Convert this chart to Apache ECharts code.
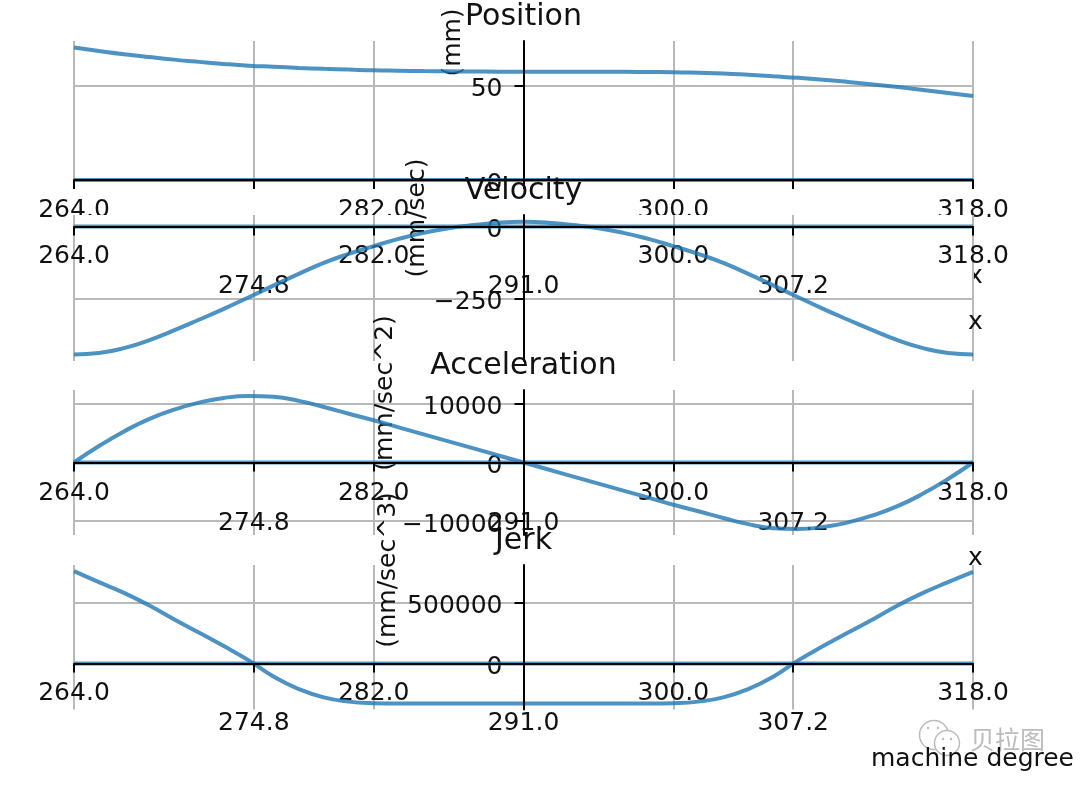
<!DOCTYPE html>
<html><head><meta charset="utf-8">
<style>html,body{margin:0;padding:0;background:#fff}#c{width:1080px;height:786px}</style>
<script src="https://cdn.jsdelivr.net/npm/echarts@6/dist/echarts.min.js"></script>
</head><body><div id="c"></div>
<script>
const machineDegrees = [264,265.5,267,268.5,270,271.5,273,274.5,276,277.5,279,280.5,282,283.5,285,286.5,288,289.5,291,292.5,294,295.5,297,298.5,300,301.5,303,304.5,306,307.5,309,310.5,312,313.5,315,316.5,318];
const positionValues = [70.4,68.6,66.9,65.4,64,62.8,61.7,60.8,60.2,59.6,59.1,58.7,58.3,58.1,57.9,57.8,57.7,57.6,57.6,57.6,57.6,57.5,57.5,57.4,57.3,57,56.6,55.9,55.1,54.3,53.3,52.1,50.8,49.4,47.9,46.3,44.7];
const velocityValues = [-443,-438,-421,-394,-360,-323,-285,-245,-204,-164,-126,-95,-68,-43,-22,-6,5,13,16,13,5,-6,-22,-43,-68,-95,-126,-164,-204,-245,-285,-323,-360,-394,-421,-438,-443];
const accelerationValues = [0,2800,5300,7400,9000,10200,11000,11320,11180,10500,9450,8300,7190,5990,4790,3590,2400,1200,0,-1200,-2400,-3590,-4790,-5990,-7190,-8300,-9450,-10500,-11180,-11320,-11000,-10200,-9000,-7400,-5300,-2800,0];
const jerkValues = [761000,670000,582000,480000,365000,255000,143000,25000,-110000,-212000,-280000,-315000,-328000,-331000,-331000,-331000,-331000,-331000,-331000,-331000,-331000,-331000,-331000,-331000,-328000,-315000,-280000,-212000,-110000,25000,143000,255000,365000,480000,582000,670000,755000];
const baselineDegrees = [264,318];
const baselineValues = [0,0];
const majorTicks = [264,282,300,318];
const minorTicks = [274.8,291,307.2];
const titles = ['Position','Velocity','Acceleration','Jerk'];
const yNames = ['(mm)','(mm/sec)','(mm/sec^2)','(mm/sec^3)'];
const xNames = ['x','x','x','machine degree'];
const yTicks = [[0,50],[-250,0],[-10000,0,10000],[0,500000]];
const yMins = [0,-465.7,-12350,-380000];
const yMaxs = [73.9,39.8,12350,811900];
const seriesValues = [positionValues,velocityValues,accelerationValues,jerkValues];

const FONT = 'DejaVu Sans';
const gridTops = [41,215,390,565];
const gridBottoms = [180,361,535,709.5];
const titleTops = [2,176,351,526];
const nameShift = [70,106,138.5,135];
const nameCenter = [42.5,218,393,570];
const xNameBelow = [96,96,96,96];
const gridLeft = 74, gridRight = 973;

const grid=[],xAxis=[],yAxis=[],series=[],title=[];
const spineDark='#000', gridCol='#b9b9b9', textCol='#111';
const fmt=v=>Number(v).toFixed(1);
for(let p=0;p<4;p++){
  const base=(p+1)*10;
  const h=gridBottoms[p]-gridTops[p];
  const zeroUp=h*(0-yMins[p])/(yMaxs[p]-yMins[p]); // distance of y=0 above the grid bottom
  grid.push({show:true,left:gridLeft,top:gridTops[p],width:gridRight-gridLeft,height:h,
    backgroundColor:'#fff',borderWidth:0,z:base,containLabel:false});
  const xBase={type:'value',gridIndex:p,min:264,max:318,position:'bottom',z:base+1,offset:-zeroUp,
    axisLine:{show:false,onZero:false},axisTick:{show:false}};
  const lab=(vals,margin)=>({show:true,customValues:vals,formatter:fmt,margin,fontFamily:FONT,fontSize:25,color:textCol,hideOverlap:false,showMinLabel:true,showMaxLabel:true});
  const split={show:true,lineStyle:{color:gridCol,width:2}};
  xAxis.push(Object.assign({},xBase,{axisTick:{show:false,customValues:majorTicks},axisLabel:lab(majorTicks,18),splitLine:split}));
  xAxis.push(Object.assign({},xBase,{axisTick:{show:false,customValues:minorTicks},axisLabel:lab(minorTicks,48),splitLine:split}));
  xAxis.push(Object.assign({},xBase,{z:base+3,
    axisLine:{show:true,onZero:false,lineStyle:{color:spineDark,width:2}},
    axisTick:{show:true,length:9,customValues:majorTicks.concat(minorTicks),lineStyle:{color:spineDark,width:2}},
    axisLabel:{show:false},splitLine:{show:false}}));
  xAxis.push(Object.assign({},xBase,{offset:-zeroUp+xNameBelow[p],
    name:xNames[p],nameLocation:'end',nameGap:p==3?-102:-5,nameMoveOverlap:false,
    nameTextStyle:{fontFamily:FONT,fontSize:25,color:textCol,align:'left',verticalAlign:'middle'},
    axisLabel:{show:false},splitLine:{show:false}}));
  const yBase={type:'value',gridIndex:p,min:yMins[p],max:yMaxs[p],position:'left',offset:-449.5,axisLine:{show:false,onZero:false}};
  yAxis.push(Object.assign({},yBase,{z:base+1,
    axisTick:{show:false,customValues:yTicks[p]},
    axisLabel:{show:true,customValues:yTicks[p],margin:21,fontFamily:FONT,fontSize:25,color:textCol,hideOverlap:false,showMinLabel:true,showMaxLabel:true,verticalAlign:'top',lineHeight:8,
      formatter:v=>String(v).replace('-','\u2212')},
    splitLine:{show:true,lineStyle:{color:gridCol,width:2}}}));
  yAxis.push(Object.assign({},yBase,{z:base+3,
    axisLine:{show:true,onZero:false,lineStyle:{color:spineDark,width:2}},
    axisTick:{show:true,length:9,customValues:yTicks[p],lineStyle:{color:spineDark,width:2}},
    axisLabel:{show:false},splitLine:{show:false}}));
  yAxis.push(Object.assign({},yBase,{z:base+1,offset:-449.5+nameShift[p],
    name:yNames[p],nameLocation:'end',nameGap:gridTops[p]-nameCenter[p],nameRotate:90,nameMoveOverlap:false,
    nameTextStyle:{fontFamily:FONT,fontSize:25,color:textCol,align:'center',verticalAlign:'middle'},
    axisTick:{show:false},axisLabel:{show:false},splitLine:{show:false}}));
  series.push({type:'line',name:titles[p]+' baseline',xAxisIndex:4*p,yAxisIndex:3*p,data:baselineDegrees.map((d,k)=>[d,baselineValues[k]]),
    showSymbol:false,symbol:'none',clip:false,z:base+2,lineStyle:{color:'#1f77b4',opacity:.8,width:4},animation:false});
  series.push({type:'line',name:titles[p],xAxisIndex:4*p,yAxisIndex:3*p,data:machineDegrees.map((d,k)=>[d,seriesValues[p][k]]),
    showSymbol:false,symbol:'none',smooth:true,clip:false,z:base+2,lineStyle:{color:'#1f77b4',opacity:.8,width:4},animation:false});
  title.push({text:titles[p],left:523.5,top:titleTops[p],textAlign:'center',z:base+5,padding:0,
    textStyle:{fontFamily:FONT,fontSize:30,fontWeight:'normal',color:textCol}});
}
const wm='#bcbcbc';
const dot=(cx,cy,r)=>({type:'circle',z:36,shape:{cx,cy,r},style:{fill:wm}});
const option={animation:false,backgroundColor:'#fff',title,grid,xAxis,yAxis,series,
  graphic:[
    {type:'circle',z:35,shape:{cx:934,cy:735,r:14.5},style:{fill:'#fff',stroke:wm,lineWidth:1.5}},
    {type:'circle',z:35,shape:{cx:947,cy:743,r:12.5},style:{fill:'#fff',stroke:wm,lineWidth:1.5}},
    dot(928,728,1.2),dot(938,728,1.2),dot(943,739,1.2),dot(951,739,1.2),
    {type:'text',z:35,x:970,y:727,style:{text:'贝拉图',font:'25px "Noto Sans CJK SC"',fill:wm}}
  ]};
const chart=echarts.init(document.getElementById('c'),null,{renderer:'canvas',width:1080,height:786});
chart.setOption(option);
</script></body></html>
